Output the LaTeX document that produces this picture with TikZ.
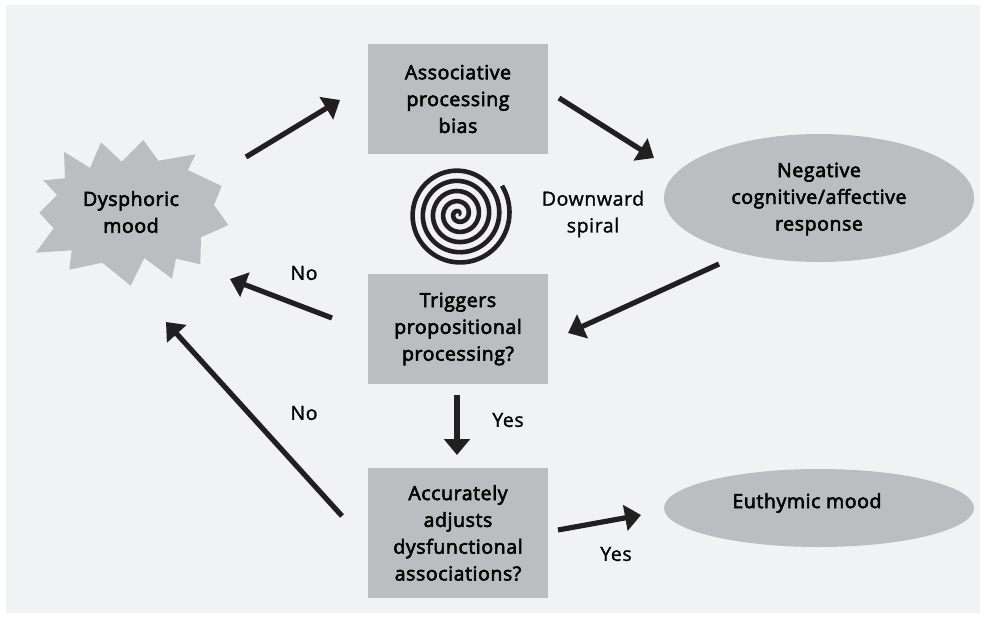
\documentclass[tikz,border=0pt]{standalone}
\usepackage{fontspec}
\setmainfont{Open Sans}
\newfontfamily\headf[FakeBold=3,LetterSpace=3]{Open Sans}
\newfontfamily\labf[FakeBold=1.2,LetterSpace=3]{Open Sans}
\usetikzlibrary{arrows.meta,shapes.geometric}
\definecolor{bgc}{HTML}{F1F2F4}
\definecolor{boxc}{HTML}{BCBDC0}
\definecolor{arrc}{HTML}{231F20}
\tikzset{
  x=1pt,y=-1pt,
  head/.style={font=\headf\fontsize{19.5}{26.8}\selectfont,align=center,text=black,inner sep=0pt},
  lab/.style={font=\labf\fontsize{19.5}{26.8}\selectfont,align=center,text=black,inner sep=0pt},
  boxn/.style={fill=boxc,draw=none,minimum width=180pt,inner sep=0pt,align=center,font=\headf\fontsize{19.5}{26.8}\selectfont},
  ell/.style={ellipse,fill=boxc,draw=none,inner sep=0pt,minimum width=310pt},
  arr/.style={draw=arrc,line width=5.2pt,-{Triangle[length=16pt,width=25.5pt]}},
}
\begin{document}
\begin{tikzpicture}
\useasboundingbox (0,0) rectangle (984,618);
\fill[white] (0,0) rectangle (984,618);
\fill[bgc] (6,5) rectangle (980,613);
% star
\fill[boxc] (101,142.3)--(121.7,161.7)--(143.3,140)--(158.3,160.7)--(195.7,154.3)--(187.7,170)--(221.7,186)--(214,205)--(228.3,225)--(201,237.3)--(200.3,264.3)--(176,258.7)--(172,278.7)--(144.3,258)--(130.7,285.7)--(102.3,262.7)--(69.3,269.7)--(71.7,250.3)--(35.7,252.7)--(53.7,228.3)--(39.3,212.7)--(57,195)--(43.3,180.3)--(65,178.3)--(64,151.7)--(90,168)--cycle;
\node[head] (dys) at (131,212) {Dysphoric\\mood};
% boxes
\node[boxn,minimum height=110pt] (assoc) at (458,99) {Associative\\processing\\bias};
\node[boxn,minimum height=110pt] (trig) at (458,329) {Triggers\\propositional\\processing?};
\node[boxn,minimum height=130pt] (acc) at (458,533) {Accurately\\adjusts\\dysfunctional\\associations?};
\node[ell,minimum height=128pt] (neg) at (819,198) {};
\node[head] (negt) at (819,199) {Negative\\cognitive/affective\\response};
\node[ell,minimum height=78pt] (eut) at (819,508) {};
\node[head] (eutt) at (807,503) {Euthymic mood};
% spiral
\draw[arrc,line width=4.6pt,line cap=butt] plot[smooth,domain=0:1833,samples=300] ({458.5+0.0283*\x*cos(\x)},{214-0.0283*\x*sin(\x)});
\node[lab] (down) at (593,214) {Downward\\spiral};
% connector ends
\coordinate (a1) at (246,157); \coordinate (b1) at (340,100);
\coordinate (a2) at (559,98);  \coordinate (b2) at (654,158);
\coordinate (a3) at (719,264); \coordinate (b3) at (568,333);
\coordinate (a4) at (332,318); \coordinate (b4) at (230,279);
\coordinate (a5) at (342,516); \coordinate (b5) at (166,322);
\coordinate (a6) at (457,395); \coordinate (b6) at (457,455);
\coordinate (a7) at (558,530); \coordinate (b7) at (641,515);
\foreach \i in {1,...,7} \draw[arr] (a\i) -- (b\i);
\node[lab] (no1) at (304,273) {No};
\node[lab] (no2) at (304,413) {No};
\node[lab] (yes1) at (508,420) {Yes};
\node[lab] (yes2) at (616,554) {Yes};
\end{tikzpicture}
\end{document}
